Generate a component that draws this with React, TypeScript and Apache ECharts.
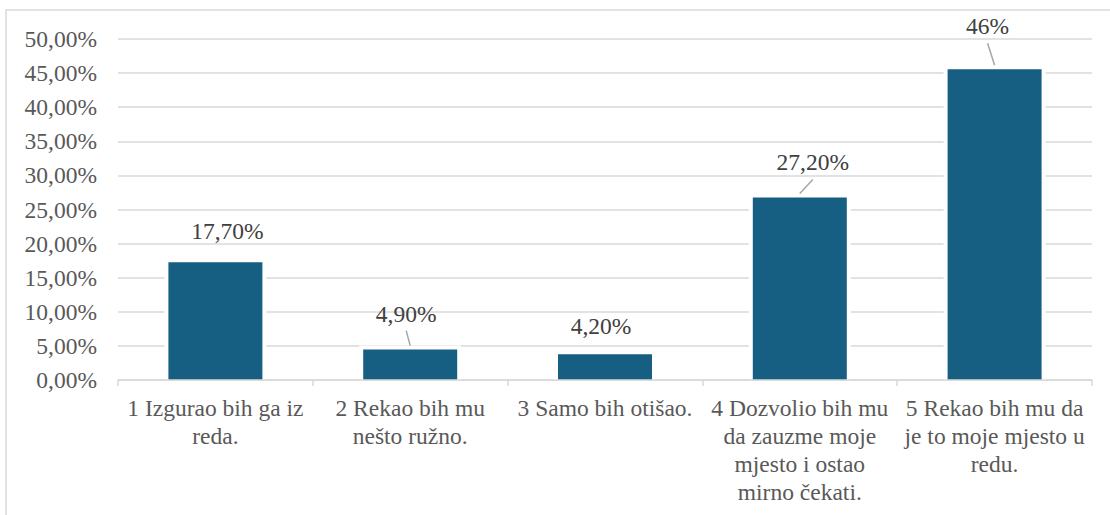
import React, { useEffect, useRef } from "react";
import * as echarts from "echarts";

const categories = [
  "1 Izgurao bih ga iz\nreda.",
  "2 Rekao bih mu\nnešto ružno.",
  "3 Samo bih otišao.",
  "4 Dozvolio bih mu\nda zauzme moje\nmjesto i ostao\nmirno čekati.",
  "5 Rekao bih mu da\nje to moje mjesto u\nredu.",
];
const values = [17.7, 4.9, 4.2, 27.2, 46];
const valueLabels = ["17,70%", "4,90%", "4,20%", "27,20%", "46%"];
const labelOffsets = [
  [12, -8],
  [-4, -13],
  [-4, -5],
  [13, -12],
  [-7, -20],
];
const showLeader = [false, true, false, true, true];

const FONT = "'Liberation Serif'";
const FS = 23.5;
const BAR_W = 100;
const INSET = 3;
const HALO = 1;

export default function App() {
  const ref = useRef<HTMLDivElement>(null);
  useEffect(() => {
    document.body.style.margin = "0";
    document.body.style.overflow = "hidden";
    const chart = echarts.init(ref.current!, undefined, { renderer: "svg" });
    chart.setOption({
      animation: false,
      textStyle: { fontFamily: FONT },
      graphic: [
        {
          type: "rect",
          shape: { x: 6, y: 10, width: 1300, height: 700 },
          style: { fill: "none", stroke: "#d9d9d9", lineWidth: 1.5 },
          silent: true,
        },
      ],
      grid: { left: 118, right: 18, top: 39, bottom: 135 },
      xAxis: {
        type: "category",
        data: categories,
        z: 5,
        axisLine: { lineStyle: { color: "#d9d9d9", width: 1.5 } },
        axisTick: { show: true, length: 6, lineStyle: { color: "#d9d9d9", width: 1.5 } },
        axisLabel: {
          interval: 0,
          color: "#595959",
          fontSize: FS,
          lineHeight: 28,
          margin: 14,
          fontFamily: FONT,
        },
      },
      yAxis: {
        type: "value",
        min: 0,
        max: 50,
        interval: 5,
        axisLine: { show: false },
        axisTick: { show: false },
        splitLine: { lineStyle: { color: "#d9d9d9", width: 1.5 } },
        axisLabel: {
          color: "#595959",
          fontSize: FS,
          margin: 21,
          fontFamily: FONT,
          formatter: (v: number) => v.toFixed(2).replace(".", ",") + "%",
        },
      },
      series: [
        {
          type: "custom",
          z: 3,
          silent: true,
          data: values.map((v, i) => [i, v]),
          renderItem: (params: any, api: any) => {
            const i = params.dataIndex;
            const top = api.coord([api.value(0), api.value(1)]);
            const base = api.coord([api.value(0), 0]);
            const cx = top[0];
            const children: any[] = [
              {
                type: "rect",
                shape: {
                  x: cx - BAR_W / 2 - HALO,
                  y: top[1] - HALO,
                  width: BAR_W + HALO * 2,
                  height: base[1] - top[1] + HALO,
                },
                style: { fill: "#ffffff" },
              },
              {
                type: "rect",
                shape: {
                  x: cx - BAR_W / 2 + INSET,
                  y: top[1] + INSET,
                  width: BAR_W - INSET * 2,
                  height: base[1] - top[1] - INSET,
                },
                style: { fill: "#175F82" },
              },
            ];
            if (showLeader[i]) {
              const [dx, dy] = labelOffsets[i];
              children.push({
                type: "line",
                shape: { x1: cx, y1: top[1] - 1, x2: cx + dx, y2: top[1] + dy - 3 },
                style: { stroke: "#a6a6a6", lineWidth: 1.5 },
              });
            }
            return { type: "group", children };
          },
        },
        {
          type: "bar",
          z: 4,
          barWidth: BAR_W,
          data: values,
          itemStyle: { color: "rgba(0,0,0,0)" },
          label: {
            show: true,
            position: "top",
            distance: 8,
            color: "#404040",
            fontSize: FS,
            fontFamily: FONT,
            formatter: (p: any) => valueLabels[p.dataIndex],
          },
          labelLayout: (p: any) => ({
            dx: labelOffsets[p.dataIndex][0],
            dy: labelOffsets[p.dataIndex][1],
          }),
        },
      ],
    });
    return () => chart.dispose();
  }, []);
  return <div ref={ref} style={{ width: 1110, height: 515 }} />;
}
